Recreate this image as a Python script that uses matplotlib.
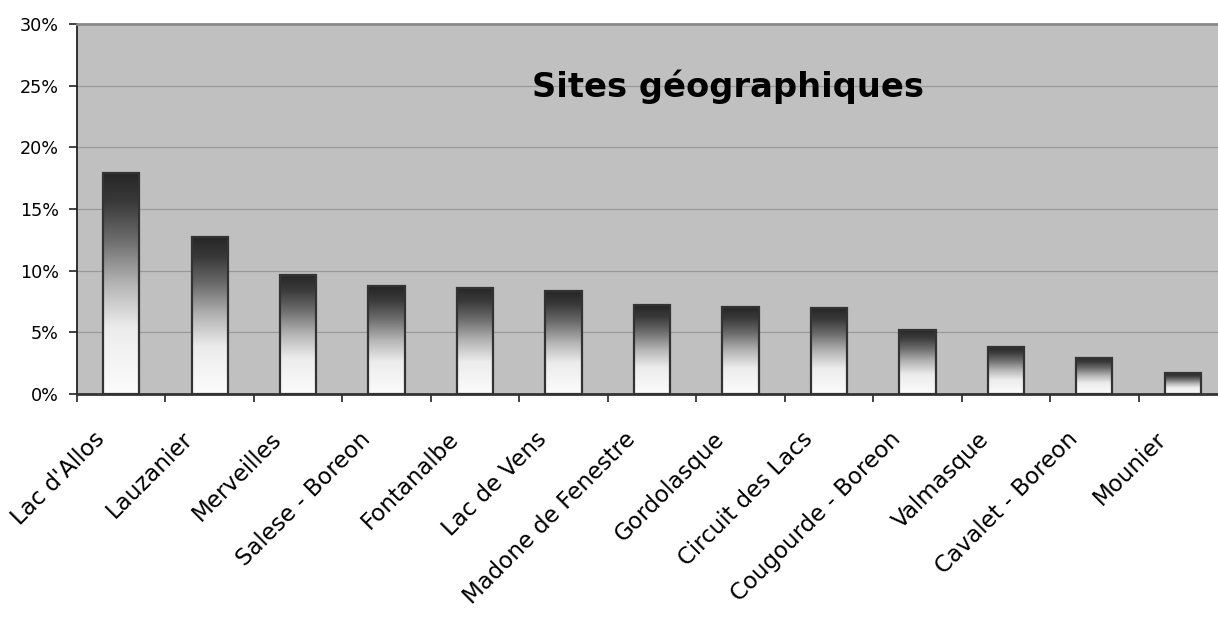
import numpy as np
import matplotlib
matplotlib.use("Agg")
import matplotlib.pyplot as plt
from matplotlib.colors import LinearSegmentedColormap
from matplotlib.ticker import PercentFormatter, FixedLocator
from matplotlib.transforms import ScaledTranslation

sites = ["Lac d'Allos", "Lauzanier", "Merveilles", "Salese - Boreon", "Fontanalbe",
         "Lac de Vens", "Madone de Fenestre", "Gordolasque", "Circuit des Lacs",
         "Cougourde - Boreon", "Valmasque", "Cavalet - Boreon", "Mounier"]
shares = [17.9, 12.7, 9.65, 8.75, 8.6, 8.35, 7.2, 7.05, 6.95, 5.2, 3.85, 2.95, 1.7]
yticks = [0, 0.05, 0.10, 0.15, 0.20, 0.25, 0.30]

vals = np.array(shares) / 100
x = np.arange(len(sites))

fig = plt.figure(figsize=(12.18, 6.17), dpi=100)
# plot area runs a bit past the right edge of the picture, as in the original
ax = fig.add_axes([77 / 1218, 223 / 617, 1150 / 1218, 370 / 617])
ax.set_facecolor("#c0c0c0")

cmap = LinearSegmentedColormap.from_list("fade", [
    (0.0, "#fcfcfc"), (0.3, "#ececec"), (0.5, "#b4b4b4"),
    (0.7, "#6c6c6c"), (0.87, "#3a3a3a"), (1.0, "#262626")])
grad = np.linspace(1, 0, 256).reshape(-1, 1)

bars = ax.bar(x, vals, width=0.41, facecolor="none", edgecolor="#333333",
              linewidth=1.6, zorder=3)
for b in bars:
    x0, w, h = b.get_x(), b.get_width(), b.get_height()
    ax.imshow(grad, extent=(x0, x0 + w, 0, h), aspect="auto", cmap=cmap,
              vmin=0, vmax=1, zorder=2, interpolation="bilinear")

ax.set_xlim(-0.5, len(sites) - 0.5)
ax.set_ylim(0, 0.30)
ax.set_yticks(yticks)
ax.yaxis.set_major_formatter(PercentFormatter(xmax=1, decimals=0))
ax.yaxis.grid(True, color="#999999", linewidth=0.9)
ax.set_axisbelow(True)

ax.set_xticks(x)
ax.set_xticklabels(sites, rotation=45, ha="right", va="center",
                   rotation_mode="anchor", fontsize=16.5)
ax.xaxis.set_minor_locator(FixedLocator(np.arange(-0.5, len(sites), 1.0)))
ax.tick_params(axis="x", which="major", length=0, pad=30)
ax.tick_params(axis="x", which="minor", length=6, width=1.2, color="#222222")
ax.tick_params(axis="y", length=6, width=1.2, color="#222222", labelsize=12.7, pad=7)
shift = ScaledTranslation(-0.2, 0, fig.dpi_scale_trans)
for lab in ax.get_xticklabels():
    lab.set_transform(lab.get_transform() + shift)

ax.spines["top"].set_color("#888888")
ax.spines["top"].set_linewidth(2)
ax.spines["left"].set_color("#222222")
ax.spines["left"].set_linewidth(1.3)
ax.spines["bottom"].set_color("#333333")
ax.spines["bottom"].set_linewidth(2)
ax.spines["right"].set_visible(False)

ax.text(0.566, 0.803, "Sites géographiques", transform=ax.transAxes,
        ha="center", va="baseline", fontsize=24.3, fontweight="bold")

fig.savefig("out.png", dpi=100)
